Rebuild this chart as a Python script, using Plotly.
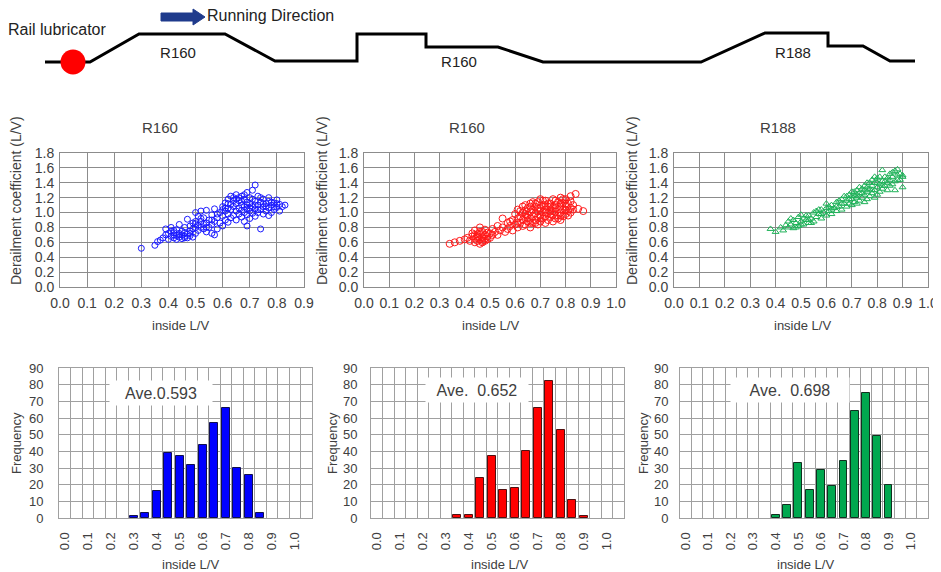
import plotly.graph_objects as go

# The page body adds an 8px offset; work in screen pixels and convert.
OFF = 8
SW, SH = 941, 572
W, H = SW - OFF, SH - OFF
def px(x): return (x - OFF) / W
def py(y): return 1 - (y - OFF) / H

FONT = "Arial, Liberation Sans, sans-serif"
TXT = "#404040"

# ---------------- data ----------------
# track profile schematic (distance along line, relative height in sketch units)
track_x = [45, 90, 139, 225, 275, 357, 357, 426, 426, 498, 543, 701, 765, 828, 828, 863, 890, 915]
track_y = [62, 62, 34, 34, 61, 61, 34, 34, 47, 47, 62, 62, 33, 33, 46, 46, 61, 61]
lube_x = [73]
lube_y = [62]
arrow_x = [161, 193, 193, 205, 193, 193, 161, 161]
arrow_y = [13, 13, 9, 17, 25, 21, 21, 13]
curve_labels = ["R160", "R160", "R188"]
curve_label_x = [178, 459, 793]
curve_label_y = [54, 63, 54]

# scatter: inside L/V vs derailment coefficient
blue_x = [0.30,0.35,0.36,0.37,0.38,0.39,0.39,0.40,0.40,0.41,0.41,0.41,0.42,0.42,0.42,0.43,0.43,0.43,0.44,0.44,0.44,0.45,0.45,0.45,0.46,0.46,0.46,0.47,0.47,0.47,0.48,0.48,0.48,0.49,0.49,0.49,0.50,0.50,0.50,0.50,0.51,0.51,0.51,0.52,0.52,0.52,0.53,0.53,0.53,0.54,0.54,0.54,0.55,0.55,0.56,0.56,0.56,0.57,0.57,0.57,0.58,0.58,0.59,0.59,0.60,0.60,0.60,0.61,0.61,0.61,0.62,0.62,0.62,0.62,0.63,0.63,0.63,0.64,0.64,0.64,0.65,0.65,0.65,0.65,0.66,0.66,0.66,0.67,0.67,0.67,0.67,0.68,0.68,0.68,0.68,0.69,0.69,0.69,0.69,0.69,0.70,0.70,0.70,0.70,0.71,0.71,0.71,0.72,0.72,0.72,0.72,0.73,0.73,0.73,0.74,0.74,0.74,0.75,0.75,0.75,0.76,0.76,0.77,0.77,0.77,0.78,0.78,0.79,0.79,0.80,0.80,0.81,0.81,0.82,0.83,
          0.42,0.44,0.46,0.48,0.50,0.52,0.54,0.56,0.58,0.60,0.62,0.64,0.66,0.68,0.70,0.72,0.74,0.76,0.78,0.80,0.63,0.67,0.71,0.75,0.79,0.61,0.65,0.69,0.73,0.77]
blue_y = [0.52,0.56,0.61,0.63,0.66,0.78,0.70,0.64,0.72,0.68,0.75,0.80,0.66,0.70,0.73,0.64,0.69,0.77,0.67,0.72,0.84,0.65,0.70,0.75,0.68,0.73,0.80,0.66,0.71,0.91,0.69,0.75,0.82,0.67,0.78,0.86,0.72,0.80,0.85,1.00,0.76,0.83,0.95,0.80,0.88,1.02,0.78,0.84,0.93,0.74,0.86,1.03,0.80,0.90,0.72,0.84,0.97,0.70,0.88,1.05,0.78,0.93,0.86,1.00,0.82,0.95,1.08,0.90,1.02,1.13,0.87,0.98,1.06,1.18,0.93,1.04,1.11,0.96,1.08,1.20,0.90,1.02,1.12,1.24,0.98,1.06,1.16,0.94,1.03,1.10,1.22,0.88,1.00,1.08,1.18,0.82,0.97,1.05,1.14,1.27,0.92,1.02,1.12,1.20,0.99,1.08,1.30,0.95,1.05,1.15,1.37,1.00,1.10,1.22,0.78,1.04,1.14,0.98,1.08,1.18,1.02,1.12,0.96,1.06,1.15,1.00,1.10,1.04,1.13,1.07,1.17,1.02,1.11,1.08,1.10,
          0.76,0.70,0.66,0.72,0.88,0.92,0.80,0.90,0.98,1.04,1.12,1.16,1.20,1.24,1.06,1.10,1.20,1.08,1.14,1.12,1.22,1.15,1.18,1.12,1.08,1.06,1.18,1.10,1.04,1.20]

red_x = [0.34,0.36,0.38,0.40,0.41,0.42,0.43,0.43,0.44,0.44,0.44,0.45,0.45,0.45,0.46,0.46,0.46,0.46,0.47,0.47,0.47,0.48,0.48,0.48,0.49,0.49,0.50,0.50,0.51,0.51,0.52,0.53,0.53,0.54,0.55,0.55,0.56,0.57,0.57,0.58,0.59,0.59,0.60,0.60,0.61,0.61,0.61,0.62,0.62,0.63,0.63,0.63,0.64,0.64,0.64,0.65,0.65,0.65,0.66,0.66,0.66,0.66,0.67,0.67,0.67,0.68,0.68,0.68,0.69,0.69,0.69,0.69,0.70,0.70,0.70,0.70,0.71,0.71,0.71,0.72,0.72,0.72,0.72,0.73,0.73,0.73,0.74,0.74,0.74,0.75,0.75,0.75,0.75,0.76,0.76,0.76,0.77,0.77,0.77,0.78,0.78,0.78,0.78,0.79,0.79,0.79,0.80,0.80,0.80,0.81,0.81,0.82,0.82,0.83,0.84,0.85,0.87,
         0.62,0.63,0.64,0.65,0.66,0.67,0.68,0.69,0.70,0.71,0.72,0.73,0.74,0.75,0.76,0.77,0.78,0.79,0.80,0.81,0.82,0.83,0.64,0.66,0.68,0.70,0.72,0.74,0.76,0.78,0.80,0.82,0.45,0.47,0.46,0.48,0.44,0.49,0.58,0.61]
red_y = [0.58,0.60,0.62,0.64,0.66,0.62,0.68,0.72,0.60,0.65,0.76,0.62,0.68,0.71,0.58,0.64,0.70,0.80,0.62,0.67,0.74,0.65,0.70,0.77,0.68,0.73,0.66,0.72,0.70,0.78,0.74,0.70,0.82,0.76,0.80,0.92,0.74,0.78,0.86,0.82,0.76,0.90,0.84,0.98,0.80,0.92,1.04,0.86,0.95,0.90,1.00,1.08,0.84,0.94,1.03,0.88,0.97,1.06,0.80,0.92,1.01,1.12,0.86,0.95,1.04,0.90,0.99,1.08,0.84,0.94,1.02,1.14,0.88,0.97,1.06,1.18,0.92,1.00,1.10,0.86,0.95,1.04,1.16,0.90,0.99,1.08,0.94,1.02,1.12,0.88,0.97,1.06,1.18,0.92,1.01,1.10,0.96,1.04,1.14,0.90,1.00,1.08,1.20,0.95,1.04,1.13,0.98,1.08,1.18,1.02,1.12,1.06,1.22,1.10,1.25,1.05,1.02,
         1.02,0.82,1.10,0.93,1.08,1.14,0.86,1.06,1.02,1.16,1.10,1.12,0.98,1.02,1.16,0.92,0.96,1.18,1.12,0.96,1.15,1.04,0.98,0.86,1.12,0.94,1.00,1.08,1.06,1.12,1.03,1.00,0.66,0.60,0.74,0.62,0.70,0.64,0.88,0.86]

green_x = [0.38,0.40,0.42,0.43,0.44,0.45,0.45,0.46,0.47,0.47,0.48,0.49,0.49,0.50,0.50,0.51,0.51,0.52,0.53,0.53,0.54,0.55,0.55,0.56,0.57,0.58,0.58,0.59,0.60,0.60,0.61,0.62,0.62,0.63,0.64,0.64,0.65,0.66,0.66,0.67,0.67,0.68,0.68,0.69,0.69,0.70,0.70,0.70,0.71,0.71,0.72,0.72,0.72,0.73,0.73,0.74,0.74,0.75,0.75,0.75,0.76,0.76,0.76,0.77,0.77,0.78,0.78,0.78,0.79,0.79,0.79,0.80,0.80,0.80,0.81,0.81,0.82,0.82,0.82,0.83,0.83,0.84,0.84,0.85,0.85,0.86,0.86,0.87,0.87,0.88,0.88,0.89,0.90,0.90,
           0.46,0.48,0.50,0.52,0.54,0.56,0.58,0.60,0.62,0.64,0.66,0.68,0.70,0.72,0.74,0.76,0.78,0.80,0.82,0.84,0.86,0.88,0.90,0.73,0.77,0.81,0.85,0.89,0.71,0.75,0.79,0.83,0.87,0.69,0.65,0.61,0.57,0.53]
green_y = [0.78,0.74,0.80,0.76,0.83,0.80,0.88,0.84,0.79,0.90,0.86,0.82,0.94,0.88,0.97,0.84,0.92,0.90,0.86,0.96,0.92,0.88,1.00,0.94,0.98,0.92,1.04,1.00,0.96,1.06,1.02,0.98,1.10,1.06,1.02,1.14,1.08,1.04,1.18,1.12,1.22,1.08,1.16,1.12,1.24,1.10,1.18,1.28,1.14,1.22,1.12,1.20,1.30,1.16,1.26,1.20,1.32,1.14,1.24,1.36,1.18,1.28,1.40,1.22,1.32,1.26,1.36,1.44,1.20,1.30,1.40,1.24,1.34,1.46,1.28,1.38,1.32,1.42,1.57,1.36,1.48,1.30,1.40,1.44,1.52,1.38,1.48,1.42,1.30,1.50,1.58,1.44,1.48,1.50,
           0.92,0.80,0.84,0.96,0.86,1.02,0.98,1.12,1.04,1.08,1.12,1.22,1.22,1.24,1.26,1.34,1.30,1.40,1.36,1.46,1.54,1.44,1.34,1.34,1.40,1.48,1.36,1.52,1.28,1.30,1.48,1.42,1.56,1.18,1.16,1.08,1.04,0.90]

# histograms of inside L/V (bin centres, frequency)
blue_bins = [0.30,0.35,0.40,0.45,0.50,0.55,0.60,0.65,0.70,0.75,0.80,0.85]
blue_counts = [1,3,16,39,37,32,44,57,66,30,26,3]
red_bins = [0.35,0.40,0.45,0.50,0.55,0.60,0.65,0.70,0.75,0.80,0.85,0.90]
red_counts = [2,2,24,37,17,18,40,66,82,53,11,1]
green_bins = [0.40,0.45,0.50,0.55,0.60,0.65,0.70,0.75,0.80,0.85,0.90]
green_counts = [2,8,33,17,29,19,34,64,75,49,20]
averages = ["Ave.0.593", "Ave.\u00a0\u00a00.652", "Ave.\u00a0\u00a00.698"]
titles = ["R160", "R160", "R188"]

# ---------------- figure ----------------
fig = go.Figure()

# schematic
fig.add_trace(go.Scatter(x=track_x, y=track_y, mode="lines", line=dict(color="black", width=3),
                         xaxis="x7", yaxis="y7", hoverinfo="skip"))
fig.add_trace(go.Scatter(x=arrow_x, y=arrow_y, mode="lines", fill="toself", fillcolor="#1f3b8c",
                         line=dict(color="#1f3b8c", width=1), xaxis="x7", yaxis="y7", hoverinfo="skip"))
fig.add_trace(go.Scatter(x=lube_x, y=lube_y, mode="markers", marker=dict(color="#ff0000", size=25),
                         xaxis="x7", yaxis="y7", hoverinfo="skip"))
fig.add_trace(go.Scatter(x=curve_label_x, y=curve_label_y, mode="text", text=curve_labels,
                         textfont=dict(family=FONT, size=15, color="#222"), xaxis="x7", yaxis="y7"))
fig.add_trace(go.Scatter(x=[8, 207], y=[31, 17], mode="text", text=["Rail lubricator", "Running Direction"],
                         textposition="middle right", textfont=dict(family=FONT, size=16, color="#222"),
                         xaxis="x7", yaxis="y7"))

# scatters
fig.add_trace(go.Scatter(x=blue_x, y=blue_y, mode="markers",
                         marker=dict(symbol="circle-open", size=6, color="#1a1aff", line=dict(width=1)),
                         xaxis="x", yaxis="y"))
fig.add_trace(go.Scatter(x=red_x, y=red_y, mode="markers",
                         marker=dict(symbol="circle-open", size=7, color="#ff1a1a", line=dict(width=1)),
                         xaxis="x2", yaxis="y2"))
fig.add_trace(go.Scatter(x=green_x, y=green_y, mode="markers",
                         marker=dict(symbol="triangle-up-open", size=6, color="#1fb259", line=dict(width=1)),
                         xaxis="x3", yaxis="y3"))

# histograms
fig.add_trace(go.Bar(x=blue_bins, y=blue_counts, width=0.035, marker=dict(color="#0000ff", line=dict(color="#101050", width=1)),
                     xaxis="x4", yaxis="y4"))
fig.add_trace(go.Bar(x=red_bins, y=red_counts, width=0.035, marker=dict(color="#ff0000", line=dict(color="#501010", width=1)),
                     xaxis="x5", yaxis="y5"))
fig.add_trace(go.Bar(x=green_bins, y=green_counts, width=0.035, marker=dict(color="#00a84f", line=dict(color="#103020", width=1)),
                     xaxis="x6", yaxis="y6"))

SG = "#8c8c8c"
HG = "#a0a0a0"
sc_tickf = dict(family=FONT, size=14, color=TXT)
h_tickf = dict(family=FONT, size=13, color=TXT)

def sc_x(dom, xmax, anchor):
    return dict(domain=[px(dom[0]), px(dom[1])], range=[0, xmax + 0.0001], tick0=0, dtick=0.1, tickformat=".1f",
                showgrid=True, gridcolor=SG, gridwidth=1, showline=True, linecolor=SG, mirror=True,
                zeroline=False, ticks="", tickfont=sc_tickf, anchor=anchor, fixedrange=True, ticklabelstandoff=3,
                automargin=False)

def sc_y(anchor):
    return dict(domain=[py(287), py(153)], range=[0, 1.8001], tick0=0, dtick=0.2, tickformat=".1f",
                showgrid=True, gridcolor=SG, gridwidth=1, showline=True, linecolor=SG, mirror=True,
                zeroline=False, ticks="", tickfont=sc_tickf, anchor=anchor, fixedrange=True, ticklabelstandoff=2,
                automargin=False)

def h_x(dom, anchor):
    return dict(domain=[px(dom[0]), px(dom[1])], range=[-0.025, 1.075], tick0=0, dtick=0.1, tickformat=".1f",
                tickangle=-90, showgrid=False, showline=True, linecolor=HG, mirror=True, zeroline=False,
                ticks="", tickfont=h_tickf, anchor=anchor, fixedrange=True, ticklabelstandoff=8, automargin=False,
                minor=dict(tick0=0.025, dtick=0.05, showgrid=True, gridcolor=HG, gridwidth=1, ticks=""))

def h_y(anchor, standoff):
    return dict(domain=[py(518), py(368)], range=[0, 90.05], tick0=0, dtick=10,
                showgrid=True, gridcolor=HG, gridwidth=1, showline=True, linecolor=HG, mirror=True,
                zeroline=False, ticks="", tickfont=h_tickf, anchor=anchor, fixedrange=True, ticklabelstandoff=standoff,
                automargin=False)

layout = dict(
    width=W, height=H, margin=dict(l=0, r=0, t=0, b=0, autoexpand=False), showlegend=False,
    paper_bgcolor="white", plot_bgcolor="white", bargap=0,
    font=dict(family=FONT, color=TXT),
    xaxis=sc_x((60, 304), 0.9, "y"), yaxis=sc_y("x"),
    xaxis2=sc_x((364, 616), 1.0, "y2"), yaxis2=sc_y("x2"),
    xaxis3=sc_x((674, 928), 1.0, "y3"), yaxis3=sc_y("x3"),
    xaxis4=h_x((59, 312), "y4"), yaxis4=h_y("x4", 12),
    xaxis5=h_x((371, 624), "y5"), yaxis5=h_y("x5", 10),
    xaxis6=h_x((680, 928), "y6"), yaxis6=h_y("x6", 8),
    xaxis7=dict(domain=[0, 1], range=[OFF, SW], visible=False, fixedrange=True, anchor="y7", automargin=False),
    yaxis7=dict(domain=[py(92), 1], range=[92, OFF], visible=False, fixedrange=True, anchor="x7", automargin=False),
)
fig.update_layout(**layout)

ann = []
def A(text, x, y, size=13, angle=0, **kw):
    d = dict(text=text, x=px(x), y=py(y), xref="paper", yref="paper", showarrow=False,
             font=dict(family=FONT, size=size, color=TXT), textangle=angle, xanchor="center", yanchor="middle")
    d.update(kw)
    ann.append(d)

# scatter titles and axis titles
for t, x in zip(titles, [160, 467, 778]):
    A(t, x, 128, size=15)
for x in [16, 322, 632]:
    A("Derailment coefficient (L/V)", x, 201, size=14, angle=-90)
for x in [180, 490, 802]:
    A("inside L/V", x, 325, size=13)
# histogram titles
for x in [16, 332, 643]:
    A("Frequency", x, 443, size=13, angle=-90)
for x in [190, 500, 805]:
    A("inside L/V", x, 564, size=13)
# averages
for t, x, y, w in zip(averages, [161, 477, 790], [393, 390, 390], [100, 100, 116]):
    A(t, x, y, size=16, bgcolor="white", width=w, height=22)

fig.update_layout(annotations=ann)
fig.write_html("out.html")
